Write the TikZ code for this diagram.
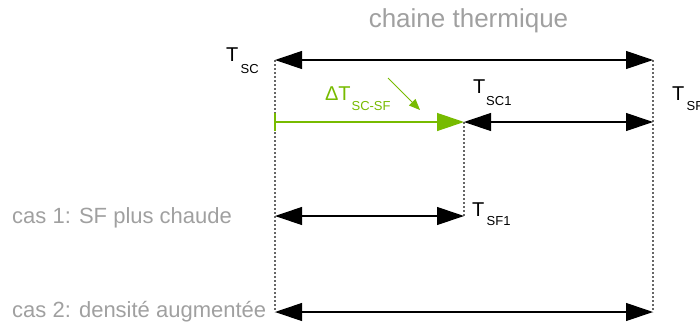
\documentclass[tikz,border=0pt]{standalone}
\usepackage{fontspec}
\setmainfont{Liberation Sans}
\usetikzlibrary{arrows.meta}
\definecolor{grn}{HTML}{77BB00}
\definecolor{txtgray}{HTML}{A0A0A0}
\definecolor{dotgray}{HTML}{666666}
\newcommand{\subf}{\fontsize{13}{15}\selectfont}
\tikzset{
  lbl/.style={anchor=base west,inner sep=0pt,outer sep=0pt,font=\fontsize{20}{24}\selectfont},
  caselbl/.style={anchor=base west,inner sep=0pt,text=txtgray,font=\fontsize{22}{26}\selectfont},
  dim/.style={line width=1.1pt,{Triangle[length=27pt,width=18pt]}-{Triangle[length=27pt,width=18pt]}},
  guide/.style={dotgray,line width=1.1pt,dash pattern=on 2pt off 2pt},
}
\begin{document}
\begin{tikzpicture}[x=1pt,y=-1pt]
\useasboundingbox (0,0) rectangle (700,325);
% coordinates
\coordinate (L0) at (275,60);
\coordinate (R0) at (653,60);
\coordinate (L1) at (275,122);
\coordinate (M1) at (464,122);
\coordinate (R1) at (653,122);
\coordinate (L2) at (275,216);
\coordinate (M2) at (464,216);
\coordinate (L3) at (275,312);
\coordinate (R3) at (653,312);
\coordinate (gA) at (388,78);
\coordinate (gB) at (420,110);
% guides
\draw[guide] (L0) -- (L3);
\draw[guide] (R0) -- (R3);
\draw[guide] (M1) -- (M2);
% dimension arrows
\draw[dim] (L0) -- (R0);
\draw[dim] (M1) -- (R1);
\draw[dim] (L2) -- (M2);
\draw[dim] (L3) -- (R3);
\draw[grn,line width=1.3pt,-{Triangle[length=27pt,width=18pt]}] (L1) -- (M1);
\draw[grn,line width=1.6pt] ([yshift=-9pt]L1) -- ([yshift=9pt]L1);
\draw[grn,line width=0.8pt,-{Triangle[length=11pt,width=9pt]}] (gA) -- (gB);
% labels
\node[anchor=base,inner sep=0pt,text=txtgray,font=\fontsize{26}{30}\selectfont] (title) at (468.5,27) {chaine thermique};
\node[lbl] (tsc) at (226,61) {T\kern2.5pt\raisebox{-12pt}{\subf SC}};
\node[lbl,text=grn] (dt) at (325,100) {ΔT\kern1pt\raisebox{-10pt}{\subf SC-SF}};
\node[lbl] (tsc1) at (473,93) {T\kern1pt\raisebox{-12pt}{\subf SC1}};
\node[lbl] (tsf) at (672,100) {T\kern2.5pt\raisebox{-10pt}{\subf SF}};
\node[lbl] (tsf1) at (472,216) {T\kern2.5pt\raisebox{-9pt}{\subf SF1}};
\node[caselbl] (c1) at (12,223) {cas 1: SF plus chaude};
\node[caselbl] (c2) at (12,317) {cas 2: densité augmentée};
\end{tikzpicture}
\end{document}
